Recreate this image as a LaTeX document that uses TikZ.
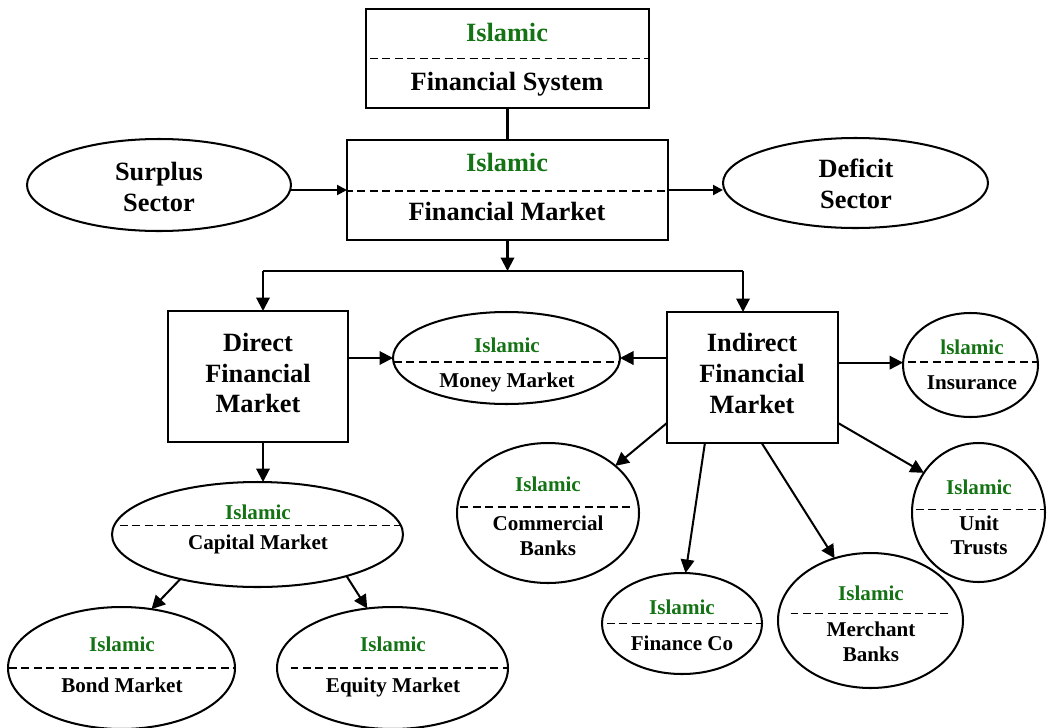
\documentclass[tikz,border=0pt]{standalone}
\usepackage{fontspec}
\setmainfont{Liberation Serif}
\usetikzlibrary{arrows.meta,calc,shapes.geometric}
\definecolor{islamgreen}{RGB}{20,115,20}
\begin{document}
\begin{tikzpicture}[x=0.02cm,y=-0.02cm,
  every node/.style={inner sep=0pt, outer sep=0pt},
  sz/.style 2 args={minimum width=#1*0.02cm, minimum height=#2*0.02cm},
  oval/.style={ellipse, draw, line width=1.15pt},
  panel/.style={rectangle, draw, line width=1.15pt},
  sep/.style={line width=1pt, dash pattern=on 4.5pt off 2.6pt},
  divider/.style n args={3}{path picture={\draw[sep] ($(path picture bounding box.center)+(#1,#3)$) -- ($(path picture bounding box.center)+(#2,#3)$);}},
  big/.style={font=\fontsize{15}{17.6}\selectfont\bfseries, align=center},
  small/.style={font=\fontsize{12}{14}\selectfont\bfseries, align=center},
  bigline/.style={big, text height=10.2pt, text depth=0pt},
  smallline/.style={small, text height=8.2pt, text depth=0pt},
  bigtag/.style={bigline, text=islamgreen},
  smalltag/.style={smallline, text=islamgreen},
  plain/.style={line width=1.15pt},
  link/.style={line width=1.15pt, -{Triangle[length=0.27cm,width=0.27cm]}},
  thin link/.style={line width=1.15pt, -{Triangle[length=0.2cm,width=0.2cm]}},
]
\useasboundingbox (0,0) rectangle (1048,727);

% rectangular blocks
\node[panel, sz={283}{99}, divider={-200}{200}{0}] (sys) at (507.5,58.5) {};
\node[panel, sz={321}{100}, divider={-200}{200}{1}] (mkt) at (507.5,190) {};
\node[panel, sz={180}{131}] (direct) at (258,376.5) {};
\node[panel, sz={171}{131}] (indirect) at (752.5,377.5) {};

% elliptical blocks
\node[oval, sz={264}{92}] (surplus) at (159,185) {};
\node[oval, sz={265}{90}] (deficit) at (855.5,183) {};
\node[oval, sz={227}{92}, divider={-200}{200}{4}] (money) at (506.5,358) {};
\node[oval, sz={135}{104}, divider={-200}{200}{-3}] (insurance) at (970.5,365) {};
\node[oval, sz={291}{105}, divider={-200}{200}{-9}] (capital) at (257.5,534.5) {};
\node[oval, sz={227}{122}, divider={-200}{200}{0}] (bond) at (121.5,668) {};
\node[oval, sz={231}{122}, divider={-102}{115}{0}] (equity) at (392.5,668) {};
\node[oval, sz={182}{140}, divider={-200}{85}{-6}] (commercial) at (548,513) {};
\node[oval, sz={160}{101}, divider={-200}{200}{0}] (finance) at (682,623.5) {};
\node[oval, sz={185}{135}, divider={-80}{80}{-7}] (merchant) at (870.5,620.5) {};
\node[oval, sz={133}{139}, divider={-200}{200}{-3}] (unit) at (978.5,512.5) {};

% labels
\node[bigtag] (sysA) at (507,33) {Islamic};
\node[bigline] (sysB) at (507,82) {Financial System};
\node[bigtag] (mktA) at (507,163) {Islamic};
\node[bigline] (mktB) at (507,212) {Financial Market};
\node[big] (surplusT) at (159,187) {Surplus\\Sector};
\node[big] (deficitT) at (856,184) {Deficit\\Sector};
\node[big] (directT) at (258,373) {Direct\\Financial\\Market};
\node[big] (indirectT) at (752,373.5) {Indirect\\Financial\\Market};
\node[smalltag] (moneyA) at (507,345) {Islamic};
\node[smallline] (moneyB) at (507,380) {Money Market};
\node[smalltag] (insA) at (972,347) {lslamic};
\node[smallline] (insB) at (972,382) {Insurance};
\node[smalltag] (capA) at (258,512) {Islamic};
\node[smallline] (capB) at (258,542) {Capital Market};
\node[smalltag] (bondA) at (122,644) {Islamic};
\node[smallline] (bondB) at (122,685) {Bond Market};
\node[smalltag] (eqA) at (393,644) {Islamic};
\node[smallline] (eqB) at (393,685) {Equity Market};
\node[smalltag] (comA) at (548,484) {Islamic};
\node[small] (comB) at (548,536) {Commercial\\Banks};
\node[smalltag] (finA) at (682,607) {Islamic};
\node[smallline] (finB) at (682,643) {Finance Co};
\node[smalltag] (merA) at (871,593) {Islamic};
\node[small] (merB) at (871,641.5) {Merchant\\Banks};
\node[smalltag] (unitA) at (979,487) {Islamic};
\node[small] (unitB) at (979,535.5) {Unit\\Trusts};

% connectors
\coordinate (jl) at (263,271);
\coordinate (jr) at (743,271);
\draw[plain] (sys.south) -- (mkt.north);
\draw[thin link] (surplus.east |- mkt.west) -- (mkt.west);
\draw[thin link] (mkt.east) -- (deficit.west |- mkt.east);
\draw[link] (mkt.south) -- (mkt.south |- jl);
\draw[plain] (jl) -- (jr);
\draw[link] (jl) -- (jl |- direct.north);
\draw[link] (jr) -- (jr |- indirect.north);
\draw[link] (direct.east |- money.west) -- (money.west);
\draw[link] (indirect.west |- money.east) -- (money.east);
\draw[link] (indirect.east |- insurance.180-2) -- (insurance.180-2);
\draw[link] (jl |- direct.south) -- (jl |- capital.north);
\draw[link] (capital.210) -- (bond.63);
\draw[link] (capital.335) -- (equity.113);
\draw[link] (indirect.208) -- (commercial.35);
\draw[link] (indirect.234) -- (finance.86);
\draw[link] (indirect.278) -- (merchant.120);
\draw[link] (indirect.332) -- (unit.144);
\end{tikzpicture}
\end{document}
